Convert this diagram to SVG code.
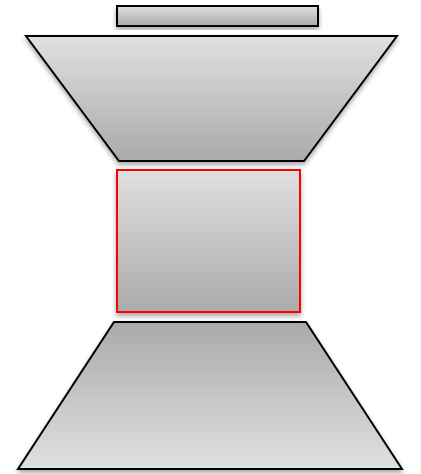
<svg xmlns="http://www.w3.org/2000/svg" width="421" height="474" viewBox="0 0 421 474">
<defs>
<linearGradient id="down" x1="0" y1="0" x2="0" y2="1"><stop offset="0" stop-color="#e0e0e0"/><stop offset="1" stop-color="#aaaaaa"/></linearGradient>
<linearGradient id="up" x1="0" y1="0" x2="0" y2="1"><stop offset="0" stop-color="#aaaaaa"/><stop offset="1" stop-color="#e0e0e0"/></linearGradient>
<filter id="sh" x="-10%" y="-10%" width="120%" height="130%"><feGaussianBlur in="SourceAlpha" stdDeviation="2.5"/><feOffset dx="0" dy="3" result="b"/><feComponentTransfer><feFuncA type="linear" slope="0.35"/></feComponentTransfer><feMerge><feMergeNode/><feMergeNode in="SourceGraphic"/></feMerge></filter>
<style>.s{stroke:#000;stroke-width:2;filter:url(#sh)}</style>
</defs>
<g id="top-bar"><rect class="s" x="117" y="6" width="201" height="20" fill="url(#down)"/></g>
<g id="top-trapezoid"><polygon class="s" points="26,36 397,36 304,161 119,161" fill="url(#down)"/></g>
<g id="middle-box"><rect x="117" y="170" width="183" height="142" fill="url(#down)" stroke="#ff0000" stroke-width="2" filter="url(#sh)"/></g>
<g id="bottom-trapezoid"><polygon class="s" points="114,322 306,322 402,469 18,469" fill="url(#up)"/></g>
<g id="connectors"/>
</svg>
